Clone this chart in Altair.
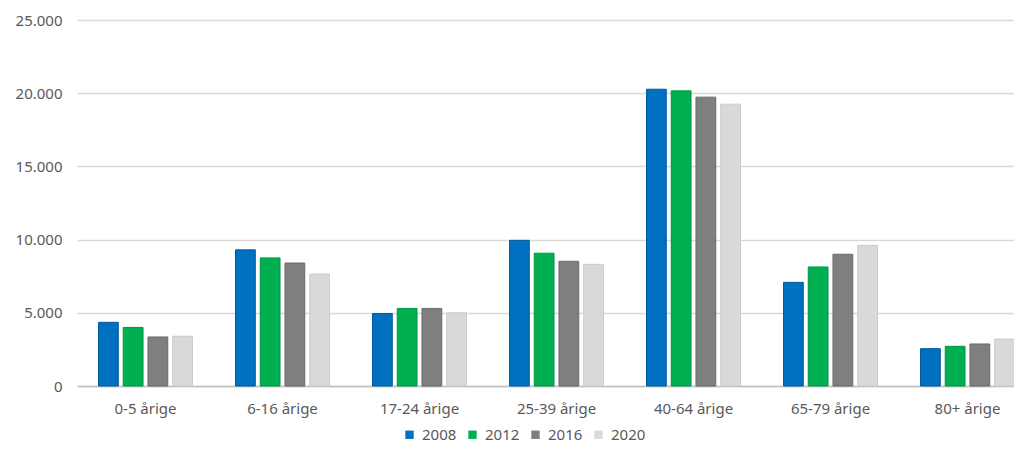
import altair as alt
import pandas as pd

categories = ["0-5 årige", "6-16 årige", "17-24 årige", "25-39 årige",
              "40-64 årige", "65-79 årige", "80+ årige"]
years = ["2008", "2012", "2016", "2020"]
v2008 = [4350, 9300, 4950, 9950, 20270, 7080, 2550]
v2012 = [4000, 8750, 5300, 9070, 20160, 8130, 2710]
v2016 = [3350, 8400, 5300, 8520, 19730, 9000, 2870]
v2020 = [3400, 7650, 5000, 8310, 19250, 9610, 3210]
colors = ["#0070C0", "#00B050", "#7F7F7F", "#D9D9D9"]
strokes = ["#005A9E", "#009444", "#6A6A6A", "#CCCCCC"]

rows = []
for y, vals in zip(years, [v2008, v2012, v2016, v2020]):
    for c, v in zip(categories, vals):
        rows.append({"kategori": c, "år": y, "antal": v})
df = pd.DataFrame(rows)

FONT = "Noto Sans"
TXT = "#595959"

chart = alt.Chart(df).mark_bar(strokeWidth=1).encode(
    x=alt.X("kategori:N", sort=categories, title=None,
            scale=alt.Scale(range=[0, 959], paddingInner=0.314, paddingOuter=0.157),
            axis=alt.Axis(labelAngle=0, ticks=False, domain=True, domainColor="#BFBFBF",
                          domainWidth=1.5, labelPadding=15, labelFontSize=15,
                          labelFont=FONT, labelColor=TXT, grid=False)),
    xOffset=alt.XOffset("år:N", sort=years,
                        scale=alt.Scale(paddingInner=0.2, paddingOuter=0)),
    y=alt.Y("antal:Q", title=None,
            scale=alt.Scale(domain=[0, 25000], nice=False),
            axis=alt.Axis(values=[0, 5000, 10000, 15000, 20000, 25000],
                          labelExpr="replace(format(datum.value, ','), ',', '.')",
                          ticks=False, domain=False, labelPadding=15,
                          labelFontSize=15, labelFont=FONT, labelColor=TXT,
                          gridColor="#D9D9D9", gridWidth=1.5)),
    color=alt.Color("år:N", sort=years, title=None,
                    scale=alt.Scale(domain=years, range=colors),
                    legend=alt.Legend(orient="none", legendX=325, legendY=407,
                                      direction="horizontal", symbolType="square",
                                      symbolSize=70, symbolStrokeWidth=0,
                                      labelFontSize=15, labelFont=FONT,
                                      labelColor=TXT, columnPadding=8,
                                      labelOffset=5)),
    stroke=alt.Stroke("år:N", sort=years, scale=alt.Scale(domain=years, range=strokes),
                      legend=None),
).properties(
    width=937, height=366,
    padding={"left": 69, "top": 12, "right": 0, "bottom": 61},
    autosize=alt.AutoSizeParams(type="none"),
).configure_view(stroke=None)

chart.save("out.html", embed_options={"renderer": "svg", "actions": False})
